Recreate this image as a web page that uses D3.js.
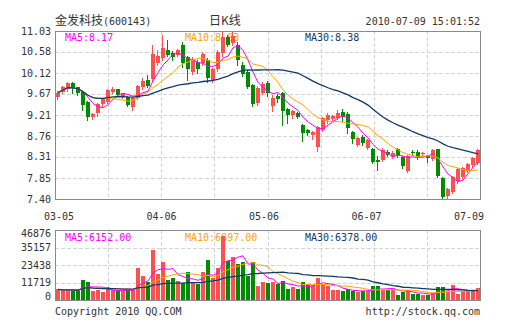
<!DOCTYPE html>
<html><head><meta charset="utf-8">
<script src="https://cdn.jsdelivr.net/npm/d3@7"></script>
<style>
body{margin:0;background:#fff}
svg{display:block}
text{font-family:"DejaVu Sans Mono",monospace;font-size:10px;fill:#333}
</style>
</head><body>
<svg id="c" width="505" height="330"></svg>
<script>
const stockName = "金发科技";
const stockCode = "(600143)";
const chartTitle = "日K线";
const timeStamp = "2010-07-09 15:01:52";
const dateLabels = ["03-05","04-06","05-06","06-07","07-09"];
const priceTicks = [11.03,10.58,10.12,9.67,9.21,8.76,8.31,7.85,7.40];
const volTicks = [46876,35157,23438,11719,0];
const priceMaLabels = [["MA5","8.17"],["MA10","8.03"],["MA30","8.38"]];
const volMaLabels = [["MA5","6152.00"],["MA10","6897.00"],["MA30","6378.00"]];

const open = [9.61,9.71,9.78,9.90,9.81,9.72,9.50,9.17,9.25,9.45,9.50,9.71,9.77,9.61,9.61,9.38,9.58,9.81,9.97,10.00,
10.33,10.44,10.63,10.55,10.51,10.73,10.46,10.15,10.37,10.33,10.40,9.98,10.20,10.56,10.89,10.76,10.73,10.30,10.15,9.86,
9.47,9.70,9.91,9.40,9.62,9.68,9.34,9.22,9.25,9.00,8.89,8.78,8.53,8.89,9.11,9.12,9.14,9.29,9.24,8.85,
8.57,8.75,8.50,8.48,8.24,8.24,8.42,8.30,8.47,8.31,8.00,8.41,8.41,8.365,8.33,8.26,8.48,7.85,7.46,7.56,
7.78,7.87,8.01,8.14,8.17];
const high = [9.73,9.84,9.92,9.93,9.83,9.74,9.52,9.25,9.47,9.58,9.78,9.82,9.78,9.70,9.63,9.60,9.86,10.01,10.08,10.73,
10.63,10.94,10.84,10.59,10.65,10.80,10.50,10.46,10.40,10.58,10.45,10.24,10.63,11.03,10.95,11.03,10.79,10.35,10.18,9.88,
9.84,9.92,9.95,9.65,9.66,9.72,9.36,9.33,9.28,9.03,8.92,8.86,8.98,9.17,9.25,9.22,9.32,9.34,9.27,8.87,
8.74,8.78,8.70,8.50,8.32,8.50,8.45,8.43,8.51,8.33,8.34,8.46,8.46,8.42,8.36,8.48,8.49,7.87,7.64,7.90,
8.06,8.09,8.17,8.30,8.48];
const low = [9.57,9.68,9.74,9.70,9.65,9.32,9.11,9.13,9.20,9.42,9.47,9.69,9.62,9.58,9.40,9.33,9.55,9.78,9.82,9.96,
10.30,10.40,10.48,10.40,10.48,10.26,9.98,10.10,10.12,10.30,9.93,9.93,10.17,10.50,10.70,10.72,10.30,10.05,9.80,9.40,
9.44,9.66,9.62,9.30,9.50,9.00,9.04,9.14,9.15,8.66,8.79,8.69,8.44,8.86,9.05,9.09,9.12,9.09,8.82,8.60,
8.55,8.57,8.48,8.17,8.03,8.22,8.33,8.28,8.30,8.06,7.98,8.35,8.26,8.33,8.19,8.24,7.87,7.40,7.43,7.54,
7.75,7.85,7.99,8.10,8.15];
const close = [9.70,9.81,9.90,9.80,9.68,9.43,9.17,9.24,9.45,9.56,9.76,9.77,9.65,9.68,9.43,9.58,9.84,9.96,9.84,10.53,
10.48,10.66,10.51,10.46,10.62,10.33,10.20,10.40,10.20,10.53,10.01,10.20,10.58,10.91,10.73,10.93,10.40,10.11,9.83,9.45,
9.80,9.88,9.68,9.58,9.56,9.30,9.22,9.30,9.18,8.82,8.82,8.84,8.96,9.14,9.22,9.19,9.25,9.18,8.93,8.69,
8.71,8.60,8.68,8.21,8.19,8.46,8.35,8.40,8.32,8.11,8.32,8.40,8.31,8.385,8.28,8.46,7.90,7.45,7.61,7.87,
8.04,8.06,8.15,8.28,8.46];
const volume = [7075,6412,6854,6633,5749,13710,11940,5749,6412,5086,8402,6412,5749,5749,6854,6854,21226,16362,12382,33607,
17246,25648,13710,15035,13045,11500,18800,12200,10400,18800,26500,14400,21200,43100,26300,29000,23879,25648,15919,25648,
9286,12382,11055,11800,10800,13000,7200,8400,7300,11800,10000,10200,14500,11000,9200,6900,6700,5750,7200,5850,
5500,6000,6300,9060,9060,6400,6950,7600,3650,5500,6400,3900,3900,3200,3100,4400,9000,9000,5600,9800,
4300,6200,6200,6200,7850];

const RED = "#ff5050", GREEN = "#008c00";
const MA_COLORS = ["#ff00ff", "#ffa500", "#123a68"];
const MA_PERIODS = [5, 10, 30];

const svg = d3.select("#c");
svg.append("rect").attr("width",505).attr("height",330).attr("fill","#fff");

const X0 = 55, X1 = 480, PT = 31, PB = 199, VT = 230, VB = 300;
const n = close.length;
const x = d3.scaleBand().domain(d3.range(n)).range([X0, X1]).paddingInner(0.2).paddingOuter(0.1).round(true);
const bw = x.bandwidth();
const cx = i => x(i) + bw / 2 - 0.5;
const yP = d3.scaleLinear().domain([7.40, 11.03]).range([PB, PT]);
const yV = d3.scaleLinear().domain([0, 46876]).range([VB, VT]);
const gx = d3.scaleLinear().domain([0, 8]).range([X0, X1]);
const xl = d3.scalePoint().domain(dateLabels).range([59, 469]);

const grid = svg.append("g").attr("stroke", "#d4d4d4").attr("stroke-dasharray", "4,2").attr("shape-rendering","crispEdges");
// horizontal price grid
priceTicks.slice(1, -1).forEach(t => {
  const yy = Math.round(yP(t)) + 0.5;
  grid.append("line").attr("x1", X0).attr("x2", X1).attr("y1", yy).attr("y2", yy);
});
volTicks.slice(1, -1).forEach(t => {
  const yy = Math.round(yV(t)) + 0.5;
  grid.append("line").attr("x1", X0).attr("x2", X1).attr("y1", yy).attr("y2", yy);
});
d3.range(1, 8).forEach(k => {
  const xx = Math.round(gx(k)) + 0.5;
  grid.append("line").attr("x1", xx).attr("x2", xx).attr("y1", PT).attr("y2", PB);
  grid.append("line").attr("x1", xx).attr("x2", xx).attr("y1", VT).attr("y2", VB);
});

// axis labels
const axisG = svg.append("g");
priceTicks.forEach(t => {
  axisG.append("text").attr("x", 51).attr("y", yP(t)).attr("dy", "0.35em")
    .attr("text-anchor", "end").text(t.toFixed(2));
});
volTicks.forEach(t => {
  const yy = Math.max(VT + 3.5, Math.min(VB - 3.5, yV(t)));
  axisG.append("text").attr("x", 51).attr("y", yy).attr("dy", "0.35em")
    .attr("text-anchor", "end").text(t);
});
dateLabels.forEach(d => {
  axisG.append("text").attr("x", xl(d)).attr("y", 220).attr("text-anchor", "middle").text(d);
});

// MA labels
const labX = [65, 185, 305];
priceMaLabels.forEach((p, k) => {
  svg.append("text").attr("x", labX[k]).attr("y", 41).attr("fill", MA_COLORS[k]).style("fill", MA_COLORS[k]).text(p[0] + ":" + p[1]);
});
volMaLabels.forEach((p, k) => {
  svg.append("text").attr("x", labX[k]).attr("y", 240.5).style("fill", MA_COLORS[k]).text(p[0] + ":" + p[1]);
});

// candles
const cg = svg.append("g").attr("shape-rendering", "crispEdges");
d3.range(n).forEach(i => {
  const up = close[i] > open[i];
  const col = up ? RED : GREEN;
  const xw = cx(i);
  cg.append("line").attr("x1", xw).attr("x2", xw)
    .attr("y1", Math.round(yP(high[i]))).attr("y2", Math.round(yP(low[i])) + 1)
    .attr("stroke", col);
  const t = Math.round(yP(Math.max(open[i], close[i])));
  const b = Math.round(yP(Math.min(open[i], close[i])));
  cg.append("rect").attr("x", x(i)).attr("width", bw).attr("y", t).attr("height", Math.max(1, b - t)).attr("fill", col);
  const vy = Math.round(yV(volume[i]));
  cg.append("rect").attr("x", x(i)).attr("width", bw).attr("y", vy).attr("height", VB - vy).attr("fill", col);
});

// moving averages
function movingAvg(arr, k) {
  return arr.map((_, i) => d3.mean(arr.slice(Math.max(0, i - k + 1), i + 1)));
}
const lineP = d3.line().x((d, i) => x(i) + bw / 2).y(d => yP(d));
const lineV = d3.line().x((d, i) => x(i) + bw / 2).y(d => yV(d));
MA_PERIODS.forEach((p, k) => {
  svg.append("path").datum(movingAvg(volume, p)).attr("d", lineV)
    .attr("fill", "none").attr("stroke", MA_COLORS[k]).attr("stroke-width", k === 2 ? 1.3 : 1);
});
MA_PERIODS.forEach((p, k) => {
  svg.append("path").datum(movingAvg(close, p)).attr("d", lineP)
    .attr("fill", "none").attr("stroke", MA_COLORS[k]).attr("stroke-width", k === 2 ? 1.3 : 1);
});

// borders
svg.append("rect").attr("x", X0 + 0.5).attr("y", PT + 0.5).attr("width", X1 - X0).attr("height", PB - PT)
  .attr("fill", "none").attr("stroke", "#8a8a8a");
svg.append("rect").attr("x", X0 + 0.5).attr("y", VT + 0.5).attr("width", X1 - X0).attr("height", VB - VT)
  .attr("fill", "none").attr("stroke", "#8a8a8a");

// title & footer
const title = svg.append("text").attr("x", 55).attr("y", 25);
title.append("tspan").style("font-family", "'Noto Sans CJK SC'").style("font-size", "12px").text(stockName);
title.append("tspan").text(stockCode);
svg.append("text").attr("x", 225).attr("y", 25).attr("text-anchor", "middle")
  .style("font-family", "'Noto Sans CJK SC'").style("font-size", "12px").text(chartTitle);
svg.append("text").attr("x", 480).attr("y", 25).attr("text-anchor", "end").text(timeStamp);
svg.append("text").attr("x", 55).attr("y", 315).text("Copyright 2010 QQ.COM");
svg.append("text").attr("x", 480).attr("y", 315).attr("text-anchor", "end").text("http://stock.qq.com");
</script>
</body></html>
